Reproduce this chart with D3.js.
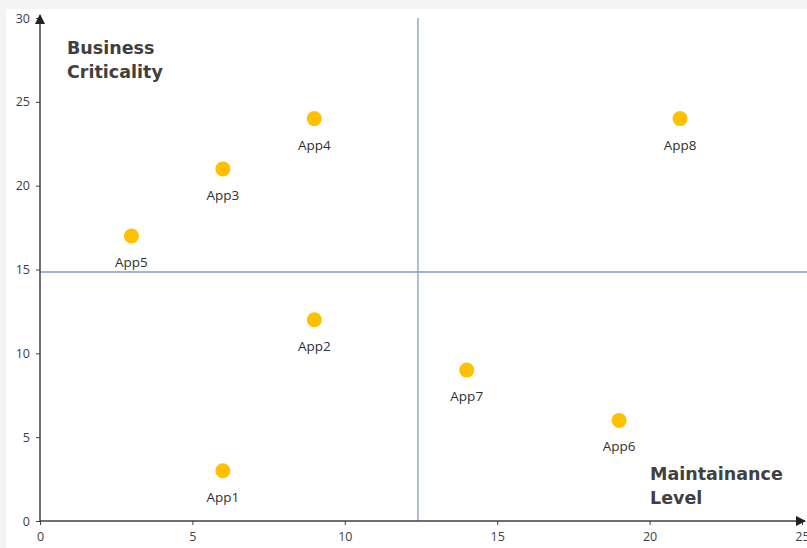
<!DOCTYPE html>
<html><head><meta charset="utf-8">
<script src="https://cdn.jsdelivr.net/npm/d3@7"></script>
<style>body{margin:0;background:#fff}svg{display:block}</style>
</head><body>
<svg id="c" width="807" height="548"></svg>
<script>
const apps = ["App1","App2","App3","App4","App5","App6","App7","App8"];
const maint = [6, 9, 6, 9, 3, 19, 14, 21];
const crit = [3, 12, 21, 24, 17, 6, 9, 24];
const xTicks = [0, 5, 10, 15, 20, 25];
const yTicks = [0, 5, 10, 15, 20, 25, 30];
const xSplit = 12.4, ySplit = 14.85;

const svg = d3.select("#c");
svg.append("rect").attr("width",807).attr("height",548).attr("fill","#f4f4f4");
svg.append("rect").attr("x",6).attr("y",9).attr("width",801).attr("height",539).attr("fill","#fff");

const x = d3.scaleLinear().domain([0,25]).range([40,802]);
const y = d3.scaleLinear().domain([0,30]).range([521,18]);

svg.append("line").attr("x1",x(xSplit)).attr("x2",x(xSplit)).attr("y1",y(30)).attr("y2",y(0))
  .attr("stroke","#7f9cc6").attr("stroke-width",1.3);
svg.append("line").attr("x1",x(0)).attr("x2",807).attr("y1",y(ySplit)).attr("y2",y(ySplit))
  .attr("stroke","#7f9cc6").attr("stroke-width",1.3);

const defs = svg.append("defs");
defs.append("marker").attr("id","arr").attr("viewBox","0 0 10 10").attr("refX",9).attr("refY",5)
  .attr("markerWidth",7).attr("markerHeight",7).attr("orient","auto")
  .append("path").attr("d","M0,0L10,5L0,10z").attr("fill","#222");

const xa = svg.append("g").attr("transform",`translate(0,${y(0)})`)
  .call(d3.axisBottom(x).tickValues(xTicks).tickSize(4).tickPadding(7));
xa.select(".domain").remove();
xa.selectAll("line").attr("stroke","#404040");
xa.selectAll("text").attr("fill","#404040").style("font-family","Open Sans, Liberation Sans, Arial").style("font-size","12.5px");
svg.append("line").attr("x1",x(0)).attr("x2",805).attr("y1",y(0)).attr("y2",y(0))
  .attr("stroke","#404040").attr("stroke-width",1.5).attr("marker-end","url(#arr)");

const ya = svg.append("g").attr("transform",`translate(${x(0)},0)`)
  .call(d3.axisLeft(y).tickValues(yTicks).tickSize(4).tickPadding(6));
ya.select(".domain").remove();
ya.selectAll("line").attr("stroke","#404040");
ya.selectAll("text").attr("fill","#404040").style("font-family","Open Sans, Liberation Sans, Arial").style("font-size","12.5px");
svg.append("line").attr("x1",x(0)).attr("x2",x(0)).attr("y1",y(0)).attr("y2",15)
  .attr("stroke","#404040").attr("stroke-width",1.5).attr("marker-end","url(#arr)");

const data = apps.map((a,i)=>({a, m:maint[i], c:crit[i]}));
svg.selectAll("circle.pt").data(data).join("circle").attr("class","pt")
  .attr("cx",d=>x(d.m)).attr("cy",d=>y(d.c)).attr("r",7.5).attr("fill","#FFC000");
svg.selectAll("text.lb").data(data).join("text").attr("class","lb")
  .attr("x",d=>x(d.m)).attr("y",d=>y(d.c)+31).attr("text-anchor","middle")
  .attr("fill","#303030").style("font-family","Open Sans, Liberation Sans, Arial").style("font-size","13.5px")
  .text(d=>d.a);

const ann = (lines, tx, ty) => {
  const t = svg.append("text").attr("fill","#404040")
    .style("font-family","DejaVu Sans, Verdana").style("font-weight","bold").style("font-size","17.5px");
  lines.forEach((l,i)=>t.append("tspan").attr("x",tx).attr("y",ty+i*24).text(l));
};
ann(["Business","Criticality"], 67, 54);
ann(["Maintainance","Level"], 650, 480);
</script>
</body></html>
